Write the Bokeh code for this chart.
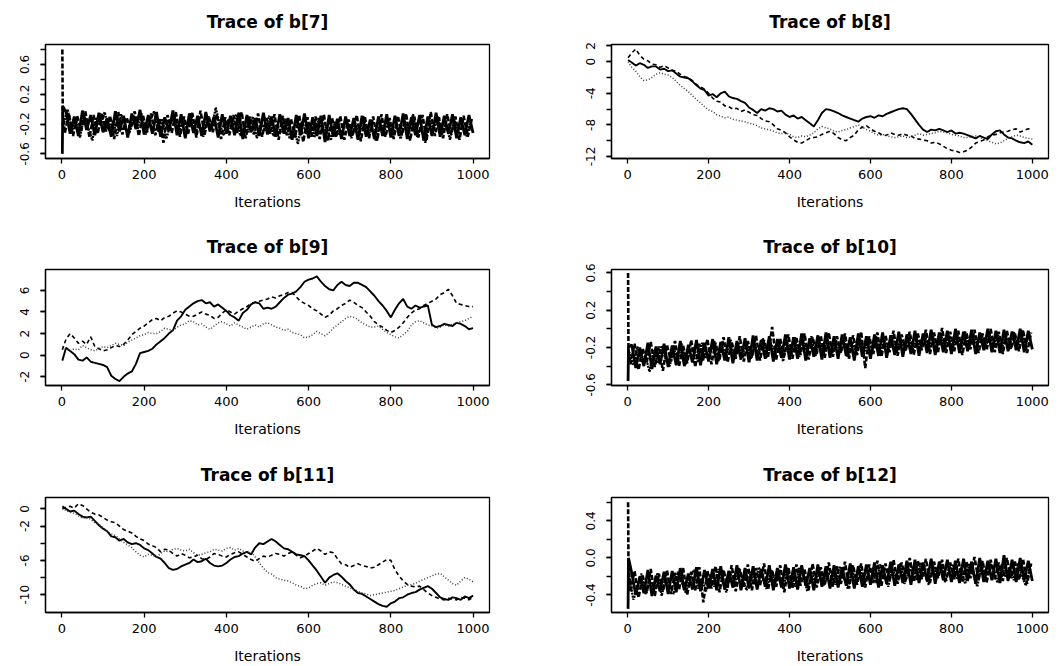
from bokeh.plotting import figure
from bokeh.layouts import column, row
from bokeh.models import Range1d, FixedTicker, PrintfTickFormatter
from bokeh.embed import file_html
from bokeh.resources import INLINE

# ---------------- data ----------------
rw_iter = [1] + list(range(10, 1001, 10))            # random-walk chains, every 10th iteration
# well-mixed chains: thinned every 10th iteration, each chain read at its own offset
noisy_iter_1 = [1, 2] + list(range(10, 1001, 10))
noisy_iter_2 = [1, 2] + list(range(7, 998, 10))
noisy_iter_3 = [1, 2] + list(range(4, 995, 10))
x_ticks = [0, 200, 400, 600, 800, 1000]

b7_chain1 = [-0.60, 0.04,
    -0.04,-0.33,-0.10,-0.36,-0.02,-0.28,-0.08,-0.35,-0.05,-0.31,
    -0.12,-0.37,-0.03,-0.30,-0.09,-0.38,-0.06,-0.27,-0.01,-0.34,
    -0.08,-0.33,-0.04,-0.37,-0.11,-0.29,-0.02,-0.35,-0.07,-0.39,
    -0.06,-0.32,-0.09,-0.36,-0.04,-0.30,-0.10,-0.38,-0.07,-0.33,
    -0.09,-0.35,-0.05,-0.40,-0.08,-0.31,-0.12,-0.36,-0.05,-0.34,
    -0.10,-0.37,-0.07,-0.33,-0.12,-0.41,-0.08,-0.35,-0.06,-0.39,
    -0.11,-0.36,-0.09,-0.44,-0.08,-0.37,-0.13,-0.40,-0.10,-0.36,
    -0.12,-0.41,-0.09,-0.37,-0.14,-0.40,-0.10,-0.36,-0.07,-0.38,
    -0.09,-0.36,-0.06,-0.40,-0.11,-0.35,-0.08,-0.42,-0.10,-0.36,
    -0.05,-0.37,-0.09,-0.33,-0.07,-0.39,-0.11,-0.35,-0.08,-0.32]
b7_chain2 = [0.80, -0.05,
    -0.32,-0.06,-0.36,-0.09,-0.29,-0.03,-0.38,-0.08,-0.33,-0.05,
    -0.30,-0.09,-0.40,-0.04,-0.34,-0.11,-0.27,-0.03,-0.36,-0.08,
    -0.31,-0.06,-0.35,-0.12,-0.45,-0.08,-0.32,-0.04,-0.37,-0.10,
    -0.33,-0.05,-0.38,-0.02,-0.34,-0.09,-0.31,-0.07,-0.40,-0.11,
    -0.35,-0.08,-0.32,-0.04,-0.39,-0.10,-0.34,-0.06,-0.37,-0.12,
    -0.33,-0.07,-0.41,-0.09,-0.35,-0.13,-0.38,-0.08,-0.44,-0.11,
    -0.37,-0.10,-0.40,-0.07,-0.42,-0.12,-0.38,-0.09,-0.41,-0.14,
    -0.36,-0.08,-0.43,-0.11,-0.39,-0.10,-0.42,-0.07,-0.37,-0.12,
    -0.40,-0.09,-0.35,-0.06,-0.42,-0.10,-0.38,-0.08,-0.41,-0.04,
    -0.36,-0.11,-0.39,-0.07,-0.34,-0.10,-0.41,-0.09,-0.37,-0.13]
b7_chain3 = [-0.18, -0.22,
    -0.21,0.00,-0.30,-0.12,-0.38,-0.08,-0.26,-0.42,-0.11,-0.22,
    -0.04,-0.29,-0.15,-0.36,-0.07,-0.24,-0.33,-0.10,-0.27,-0.06,
    -0.34,-0.17,-0.03,-0.30,-0.13,-0.40,-0.20,-0.09,-0.32,-0.16,
    -0.25,-0.05,-0.33,-0.19,-0.37,-0.11,-0.28,0.02,-0.21,-0.35,
    -0.14,-0.27,-0.07,-0.36,-0.20,-0.31,-0.10,-0.39,-0.17,-0.29,
    -0.09,-0.36,-0.22,-0.31,-0.13,-0.40,-0.24,-0.47,-0.16,-0.33,
    -0.19,-0.38,-0.12,-0.31,-0.23,-0.42,-0.17,-0.35,-0.27,-0.14,
    -0.39,-0.21,-0.32,-0.10,-0.36,-0.25,-0.43,-0.18,-0.30,-0.13,
    -0.35,-0.22,-0.40,-0.16,-0.31,-0.07,-0.37,-0.24,-0.45,-0.15,
    -0.28,-0.10,-0.34,-0.20,-0.41,-0.14,-0.29,-0.22,-0.36,-0.18]

b8_chain1 = [0.2,-0.1,-0.5,-0.2,-0.4,-0.8,-0.6,-0.6,-1.0,-0.9,
    -1.2,-1.1,-1.5,-1.9,-2.0,-2.1,-2.5,-3.0,-3.4,-3.6,
    -4.3,-4.1,-4.5,-4.0,-3.8,-4.4,-4.6,-4.7,-5.0,-5.2,
    -5.8,-6.1,-6.5,-6.0,-6.2,-5.9,-6.0,-6.3,-6.2,-6.7,
    -7.0,-6.8,-7.2,-7.0,-7.4,-7.8,-8.2,-7.4,-6.5,-6.0,
    -6.1,-6.3,-6.5,-6.8,-7.0,-7.2,-7.4,-7.6,-7.2,-7.0,
    -6.9,-7.1,-6.8,-6.9,-6.6,-6.4,-6.2,-6.0,-5.9,-6.0,
    -6.6,-7.3,-8.0,-8.6,-8.9,-8.6,-8.7,-8.5,-8.7,-8.9,
    -8.7,-9.1,-9.0,-9.1,-9.3,-9.5,-9.7,-9.4,-9.6,-9.8,
    -9.2,-8.8,-8.7,-9.2,-9.6,-9.7,-10.0,-10.2,-10.3,-10.1,
    -10.5]
b8_chain2 = [0.5,1.1,1.6,0.8,0.3,0.1,-0.3,-0.4,-0.7,-0.5,
    -0.8,-1.1,-1.2,-1.6,-1.9,-2.0,-2.4,-2.9,-3.2,-3.5,
    -4.0,-4.6,-5.0,-5.1,-5.6,-5.7,-6.0,-5.9,-6.3,-6.1,
    -6.4,-6.7,-6.8,-7.2,-7.5,-7.6,-8.0,-8.5,-8.7,-9.0,
    -9.5,-9.9,-10.2,-10.3,-10.0,-9.7,-9.6,-9.5,-9.2,-9.0,
    -8.8,-9.1,-9.6,-9.9,-10.0,-9.6,-9.3,-8.6,-8.3,-8.1,
    -8.5,-8.8,-9.0,-9.3,-9.3,-9.0,-9.2,-9.3,-9.1,-9.3,
    -9.4,-9.7,-9.8,-9.9,-10.0,-10.3,-10.2,-10.4,-10.7,-11.0,
    -11.2,-11.3,-11.5,-11.4,-11.2,-10.8,-10.3,-10.1,-9.9,-9.5,
    -9.3,-9.2,-9.0,-8.9,-8.8,-8.6,-8.5,-8.9,-8.7,-8.5,
    -8.6]
b8_chain3 = [0.0,-0.7,-1.2,-1.9,-2.4,-2.3,-2.0,-1.6,-1.4,-1.6,
    -1.7,-2.0,-2.5,-3.0,-3.4,-3.8,-4.3,-4.8,-5.2,-5.7,
    -6.1,-6.3,-6.7,-6.9,-7.1,-7.0,-7.3,-7.4,-7.5,-7.6,
    -7.8,-7.9,-8.1,-8.4,-8.5,-8.6,-8.8,-9.0,-9.1,-9.0,
    -9.2,-9.5,-9.6,-9.4,-9.5,-9.3,-9.0,-8.5,-8.2,-8.4,
    -8.5,-8.8,-8.9,-8.7,-8.6,-8.4,-8.2,-8.0,-8.3,-8.6,
    -8.8,-9.1,-9.3,-9.2,-9.4,-9.5,-9.6,-9.5,-9.4,-9.6,
    -9.5,-9.3,-9.1,-9.3,-9.2,-9.1,-9.0,-8.8,-8.9,-9.0,
    -9.2,-9.3,-9.4,-9.6,-9.6,-9.5,-9.4,-9.6,-9.8,-10.0,
    -10.2,-10.4,-10.3,-10.0,-9.7,-9.5,-9.3,-9.4,-9.6,-9.7,
    -9.8]

b9_chain1 = [-0.5,0.7,0.4,0.1,-0.4,-0.5,-0.2,-0.6,-0.7,-0.8,
    -0.9,-1.1,-1.9,-2.2,-2.4,-2.0,-1.7,-1.5,-0.8,0.2,
    0.3,0.4,0.6,1.0,1.3,1.6,2.0,2.3,3.2,3.6,
    4.2,4.5,4.8,5.0,5.1,4.8,4.9,4.5,4.7,4.4,
    4.1,3.7,3.5,3.2,3.9,4.2,4.7,4.9,4.8,4.3,
    4.4,4.3,4.5,4.9,5.3,5.6,5.7,5.9,6.3,6.8,
    7.0,7.1,7.3,6.8,6.4,6.1,6.0,6.5,6.8,6.5,
    6.4,6.7,6.7,6.5,6.3,5.9,5.5,5.0,4.6,4.1,
    3.5,4.2,4.8,5.2,4.5,4.3,4.6,4.4,4.5,4.6,
    2.8,2.6,2.7,2.9,2.8,2.7,3.0,2.9,2.7,2.4,
    2.5]
b9_chain2 = [0.5,1.5,2.0,1.6,1.1,1.3,1.0,1.7,0.8,0.6,
    0.4,0.5,0.7,0.9,0.8,1.0,1.4,1.9,2.2,2.5,
    2.7,3.0,3.3,3.4,3.2,3.5,3.6,3.9,4.1,4.0,
    3.8,3.6,3.6,3.8,4.0,3.8,3.7,3.4,3.5,3.9,
    4.2,4.0,3.8,4.1,4.3,4.5,4.8,4.9,5.0,5.1,
    5.2,5.4,5.3,5.5,5.6,5.8,5.8,5.4,5.0,4.8,
    4.6,4.3,4.1,3.8,3.5,3.7,4.1,4.3,4.6,4.8,
    5.1,4.9,4.6,4.4,4.0,3.6,3.1,2.8,2.6,2.3,
    2.1,2.3,2.6,3.0,3.5,3.9,4.2,4.3,4.6,4.8,
    5.0,5.2,5.6,5.8,6.1,5.5,4.8,4.7,4.6,4.5,
    4.5]
b9_chain3 = [0.8,0.6,0.4,0.6,0.5,0.9,0.7,0.5,0.4,0.6,
    0.8,0.7,0.9,1.1,1.0,0.9,1.2,1.4,1.6,1.8,
    1.9,2.1,2.0,2.0,2.2,2.5,2.4,2.3,2.6,2.8,
    2.9,3.2,3.1,2.8,2.9,2.6,2.4,2.7,3.0,3.1,
    2.9,2.7,3.0,2.8,2.6,2.4,2.6,2.8,2.6,2.9,
    3.0,2.8,2.6,2.5,2.3,2.4,2.1,2.0,1.9,1.6,
    1.7,1.9,2.2,2.0,1.8,2.1,2.5,2.8,3.1,3.4,
    3.6,3.5,3.3,3.0,2.8,2.6,2.6,2.7,2.4,2.1,
    1.9,1.7,1.6,1.9,2.2,2.8,3.1,3.2,3.0,2.8,
    2.7,2.5,2.6,2.8,2.7,2.9,3.0,3.1,3.2,3.4,
    3.6]

b10_chain1 = [-0.56, -0.20,
    -0.17,-0.42,-0.20,-0.40,-0.15,-0.43,-0.19,-0.38,-0.16,-0.41,
    -0.18,-0.39,-0.13,-0.40,-0.17,-0.36,-0.12,-0.39,-0.15,-0.35,
    -0.11,-0.38,-0.14,-0.34,-0.09,-0.37,-0.13,-0.33,-0.10,-0.36,
    -0.07,-0.34,-0.12,-0.32,-0.08,-0.35,-0.11,-0.31,-0.06,-0.33,
    -0.09,-0.32,-0.05,-0.34,-0.10,-0.30,-0.07,-0.33,-0.04,-0.31,
    -0.08,-0.32,-0.06,-0.29,-0.09,-0.34,-0.05,-0.30,-0.08,-0.32,
    -0.06,-0.29,-0.04,-0.31,-0.07,-0.28,-0.03,-0.30,-0.06,-0.27,
    -0.02,-0.29,-0.05,-0.26,-0.01,-0.28,-0.04,-0.25,-0.02,-0.27,
    0.00,-0.26,-0.03,-0.24,-0.01,-0.27,-0.04,-0.23,0.00,-0.25,
    -0.02,-0.26,-0.01,-0.24,-0.03,-0.23,0.00,-0.25,-0.02,-0.22]
b10_chain2 = [0.60, -0.24,
    -0.38,-0.16,-0.44,-0.21,-0.36,-0.14,-0.41,-0.19,-0.45,-0.17,
    -0.35,-0.13,-0.40,-0.18,-0.37,-0.12,-0.41,-0.16,-0.34,-0.11,
    -0.38,-0.15,-0.33,-0.09,-0.36,-0.14,-0.32,-0.08,-0.35,-0.13,
    -0.31,-0.07,-0.34,-0.12,-0.30,0.02,-0.33,-0.11,-0.29,-0.06,
    -0.32,-0.10,-0.28,-0.05,-0.33,-0.09,-0.27,-0.07,-0.31,-0.04,
    -0.30,-0.08,-0.26,-0.05,-0.32,-0.07,-0.28,-0.03,-0.42,-0.08,
    -0.27,-0.04,-0.30,-0.07,-0.25,-0.02,-0.29,-0.06,-0.24,-0.03,
    -0.28,-0.05,-0.23,-0.01,-0.27,-0.04,-0.25,0.01,-0.26,-0.03,
    -0.24,-0.02,-0.28,-0.04,-0.22,-0.01,-0.26,-0.05,-0.23,0.00,
    -0.25,-0.03,-0.27,-0.02,-0.22,-0.05,-0.24,-0.01,-0.26,-0.04]
b10_chain3 = [-0.28, -0.30,
    -0.25,-0.39,-0.19,-0.35,-0.29,-0.46,-0.23,-0.37,-0.18,-0.33,
    -0.40,-0.21,-0.34,-0.16,-0.38,-0.25,-0.20,-0.36,-0.15,-0.31,
    -0.27,-0.13,-0.35,-0.19,-0.30,-0.11,-0.33,-0.18,-0.28,-0.14,
    -0.32,-0.17,-0.27,-0.10,-0.31,-0.16,-0.26,-0.12,-0.35,-0.15,
    -0.25,-0.09,-0.30,-0.15,-0.24,-0.08,-0.29,-0.14,-0.26,-0.11,
    -0.28,-0.13,-0.23,-0.09,-0.30,-0.14,-0.24,-0.10,-0.27,-0.12,
    -0.23,-0.08,-0.28,-0.12,-0.22,-0.07,-0.26,-0.11,-0.21,-0.06,
    -0.25,-0.10,-0.20,-0.05,-0.24,-0.09,-0.19,-0.04,-0.23,-0.08,
    -0.18,-0.06,-0.22,-0.03,-0.20,-0.07,-0.17,-0.05,-0.21,-0.06,
    -0.19,-0.04,-0.22,-0.07,-0.17,-0.03,-0.20,-0.06,-0.16,-0.05]

b11_chain1 = [0.3,0.0,-0.3,-0.2,-0.6,-0.9,-1.0,-0.9,-1.4,-1.9,
    -2.3,-2.6,-3.2,-3.3,-3.7,-3.5,-3.9,-4.1,-4.0,-4.2,
    -4.6,-4.8,-5.2,-5.6,-5.8,-6.3,-6.9,-7.1,-7.0,-6.7,
    -6.5,-6.3,-5.9,-6.2,-6.1,-5.8,-6.3,-6.6,-6.7,-6.6,
    -6.3,-5.9,-5.6,-5.5,-5.2,-5.0,-5.3,-4.5,-4.0,-4.1,
    -3.8,-3.5,-3.8,-4.2,-4.6,-4.7,-5.0,-5.3,-5.4,-5.5,
    -6.0,-6.6,-7.2,-7.9,-8.6,-8.0,-7.7,-7.5,-7.9,-8.4,
    -8.8,-9.4,-9.8,-9.9,-10.2,-10.5,-10.8,-11.1,-11.3,-11.4,
    -11.0,-10.8,-10.4,-10.3,-10.0,-9.8,-9.7,-9.4,-9.2,-9.0,
    -9.3,-9.8,-10.3,-10.5,-10.6,-10.3,-10.4,-10.6,-10.2,-10.4,
    -10.1]
b11_chain2 = [0.0,0.2,0.3,0.1,0.6,0.4,0.0,-0.4,-0.6,-0.7,
    -1.0,-1.3,-1.5,-1.6,-2.0,-2.4,-2.6,-2.8,-3.2,-3.5,
    -3.7,-4.1,-4.3,-4.5,-5.0,-4.7,-4.8,-5.2,-5.5,-5.2,
    -5.4,-5.7,-5.6,-5.4,-5.8,-5.9,-5.6,-5.2,-5.3,-5.5,
    -5.6,-5.3,-5.1,-5.0,-5.3,-5.6,-5.9,-6.1,-5.8,-5.5,
    -5.6,-5.4,-5.2,-5.3,-5.5,-5.2,-5.0,-5.4,-5.7,-5.5,
    -5.2,-4.9,-4.6,-4.9,-5.3,-5.0,-5.1,-5.8,-6.4,-6.5,
    -6.8,-6.6,-6.4,-6.6,-6.7,-6.9,-6.8,-6.5,-6.2,-5.9,
    -6.0,-7.1,-7.8,-8.4,-8.8,-9.0,-9.1,-9.0,-9.4,-9.8,
    -10.1,-10.3,-10.5,-10.6,-10.4,-10.5,-10.6,-10.3,-10.4,-10.6,
    -10.3]
b11_chain3 = [0.1,-0.2,-0.4,-0.5,-0.8,-1.1,-1.0,-1.2,-1.6,-1.8,
    -2.2,-2.6,-2.9,-3.1,-3.5,-3.9,-4.2,-4.5,-5.0,-5.4,
    -5.6,-5.3,-5.4,-5.6,-5.2,-4.9,-5.0,-4.7,-4.6,-4.8,
    -4.9,-4.7,-5.1,-5.4,-5.3,-5.1,-5.0,-4.7,-4.8,-4.9,
    -4.6,-4.5,-4.8,-4.6,-4.9,-5.1,-5.0,-5.6,-6.3,-6.9,
    -7.4,-7.6,-8.0,-8.2,-8.3,-8.4,-8.6,-8.9,-9.0,-9.3,
    -9.2,-8.9,-8.7,-8.6,-8.9,-8.7,-8.5,-8.6,-8.8,-9.0,
    -9.2,-9.4,-9.6,-9.8,-9.9,-10.1,-10.0,-9.9,-9.8,-9.7,
    -9.6,-9.5,-9.3,-9.1,-8.9,-8.8,-8.7,-8.4,-8.2,-8.0,
    -7.8,-7.6,-7.5,-7.9,-8.3,-8.7,-8.9,-8.4,-8.0,-8.2,
    -8.5]

b12_chain1 = [-0.55, 0.00,
    -0.16,-0.40,-0.20,-0.38,-0.13,-0.41,-0.19,-0.36,-0.15,-0.39,
    -0.14,-0.37,-0.11,-0.35,-0.17,-0.34,-0.10,-0.36,-0.13,-0.33,
    -0.12,-0.35,-0.09,-0.34,-0.14,-0.32,-0.08,-0.35,-0.11,-0.33,
    -0.09,-0.34,-0.12,-0.31,-0.08,-0.35,-0.11,-0.32,-0.07,-0.33,
    -0.10,-0.34,-0.08,-0.30,-0.11,-0.35,-0.07,-0.31,-0.09,-0.33,
    -0.08,-0.32,-0.10,-0.30,-0.06,-0.33,-0.09,-0.31,-0.07,-0.29,
    -0.05,-0.32,-0.08,-0.28,-0.04,-0.30,-0.07,-0.27,-0.03,-0.29,
    -0.02,-0.27,-0.05,-0.25,-0.01,-0.28,-0.04,-0.24,-0.02,-0.26,
    -0.03,-0.27,-0.01,-0.25,-0.04,-0.28,0.00,-0.26,-0.03,-0.24,
    -0.01,-0.27,0.03,-0.25,-0.02,-0.26,0.00,-0.24,-0.03,-0.25]
b12_chain2 = [0.60, -0.05,
    -0.37,-0.14,-0.43,-0.19,-0.38,-0.12,-0.41,-0.17,-0.36,-0.13,
    -0.39,-0.16,-0.34,-0.11,-0.40,-0.15,-0.35,-0.10,-0.48,-0.14,
    -0.33,-0.09,-0.37,-0.13,-0.32,-0.08,-0.36,-0.12,-0.31,-0.07,
    -0.35,-0.11,-0.30,-0.06,-0.34,-0.13,-0.31,-0.08,-0.37,-0.10,
    -0.33,-0.07,-0.30,-0.12,-0.35,-0.06,-0.32,-0.10,-0.29,-0.05,
    -0.31,-0.09,-0.28,-0.04,-0.33,-0.08,-0.29,-0.06,-0.32,-0.07,
    -0.27,-0.03,-0.30,-0.06,-0.25,-0.02,-0.28,-0.05,-0.24,0.00,
    -0.26,-0.03,-0.23,-0.01,-0.27,-0.04,-0.22,-0.02,-0.25,-0.05,
    -0.23,-0.01,-0.26,-0.04,-0.22,0.01,-0.24,-0.03,-0.27,-0.02,
    -0.23,-0.05,-0.25,0.00,-0.22,-0.04,-0.24,-0.01,-0.28,-0.06]
b12_chain3 = [-0.30, -0.28,
    -0.21,-0.45,-0.33,-0.17,-0.39,-0.24,-0.35,-0.16,-0.41,-0.22,
    -0.31,-0.39,-0.15,-0.27,-0.38,-0.20,-0.13,-0.33,-0.24,-0.36,
    -0.18,-0.31,-0.12,-0.26,-0.37,-0.17,-0.30,-0.11,-0.23,-0.35,
    -0.15,-0.29,-0.10,-0.22,-0.34,-0.14,-0.27,-0.19,-0.33,-0.13,
    -0.21,-0.31,-0.11,-0.20,-0.36,-0.16,-0.26,-0.10,-0.30,-0.19,
    -0.14,-0.29,-0.09,-0.21,-0.33,-0.13,-0.24,-0.08,-0.29,-0.18,
    -0.12,-0.27,-0.07,-0.19,-0.31,-0.11,-0.22,-0.06,-0.28,-0.16,
    -0.09,-0.24,-0.05,-0.17,-0.29,-0.08,-0.20,-0.04,-0.26,-0.13,
    -0.07,-0.23,-0.10,-0.28,-0.06,-0.18,-0.31,-0.08,-0.21,-0.05,
    -0.12,-0.27,-0.07,-0.20,-0.10,-0.24,-0.06,-0.19,-0.30,-0.09]

# y-axis ticks (all tick marks) and the labelled subset
b7_yticks = [-0.6, -0.4, -0.2, 0.0, 0.2, 0.4, 0.6, 0.8]
b7_ylabeled = [-0.6, -0.2, 0.2, 0.6]
b8_yticks = [-12, -10, -8, -6, -4, -2, 0, 2]
b8_ylabeled = [-12, -8, -4, 0, 2]
b9_yticks = [-2, 0, 2, 4, 6]
b9_ylabeled = [-2, 0, 2, 4, 6]
b10_yticks = [-0.6, -0.4, -0.2, 0.0, 0.2, 0.4, 0.6]
b10_ylabeled = [-0.6, -0.2, 0.2, 0.6]
b11_yticks = [-10, -8, -6, -4, -2, 0]
b11_ylabeled = [-10, -6, -2, 0]
b12_yticks = [-0.4, -0.2, 0.0, 0.2, 0.4, 0.6]
b12_ylabeled = [-0.4, 0.0, 0.4]

titles = ["Trace of b[7]", "Trace of b[8]", "Trace of b[9]",
          "Trace of b[10]", "Trace of b[11]", "Trace of b[12]"]

# ---------------- drawing ----------------
WALK_STYLES = [dict(line_color="black", line_dash="solid", line_width=1.9),
               dict(line_color="black", line_dash="4 3", line_width=1.6),
               dict(line_color="#3a3a3a", line_dash="1 2", line_width=1.5)]
NOISY_STYLES = [dict(line_color="black", line_dash="solid", line_width=2.8),
                dict(line_color="black", line_dash="5 2", line_width=2.6),
                dict(line_color="black", line_dash="2 1", line_width=2.3)]
NOISY_ITERS = [noisy_iter_1, noisy_iter_2, noisy_iter_3]
WALK_ITERS = [rw_iter, rw_iter, rw_iter]

# (top border, bottom border, height) per row; (left, right) border per column
ROWS = [(43, 62, 220), (49, 55, 220), (57, 53, 226)]
COLS = [(45, 42), (80, 14)]


def make_panel(title, iters, chains, styles, yrange, yticks, ylabeled, fmt, r, c):
    tb, bb, h = ROWS[r]
    lb, rb = COLS[c]
    p = figure(width=531, height=h, output_backend="svg", toolbar_location=None,
               x_range=Range1d(-39.96, 1039.96), y_range=Range1d(*yrange),
               min_border_left=lb, min_border_right=rb,
               min_border_top=tb, min_border_bottom=bb)
    p.title.text = title
    p.title.align = "center"
    p.title.vertical_align = "top"
    p.title.text_font = "DejaVu Sans"
    p.title.text_font_style = "bold"
    p.title.text_font_size = "17px"
    p.title.text_color = "black"
    p.title.standoff = 22
    p.xgrid.visible = False
    p.ygrid.visible = False
    p.outline_line_color = "black"
    p.outline_line_width = 1.3
    p.background_fill_color = "white"
    p.border_fill_color = "white"

    for xs, ys, st in zip(iters, chains, styles):
        p.line(xs, ys, **st)

    xa = p.xaxis[0]
    xa.ticker = FixedTicker(ticks=x_ticks)
    xa.axis_label = "Iterations"
    xa.axis_label_text_font = "DejaVu Sans"
    xa.axis_label_text_font_style = "normal"
    xa.axis_label_text_font_size = "14px"
    xa.axis_label_standoff = 12
    xa.major_label_text_font = "DejaVu Sans"
    xa.major_label_text_font_size = "13px"
    xa.major_label_standoff = 6

    ya = p.yaxis[0]
    ya.ticker = FixedTicker(ticks=ylabeled, minor_ticks=yticks)
    ya.formatter = PrintfTickFormatter(format=fmt)
    ya.major_label_orientation = "vertical"
    ya.major_label_text_font = "DejaVu Sans"
    ya.major_label_text_font_size = "12px"
    ya.major_label_standoff = 11

    for ax in (xa, ya):
        ax.axis_line_color = "black"
        ax.axis_line_width = 1.3
        ax.major_tick_line_color = "black"
        ax.major_tick_line_width = 1.3
        ax.major_tick_out = 5
        ax.major_tick_in = 0
        ax.major_label_text_color = "black"
        ax.axis_label_text_color = "black"
    ya.minor_tick_line_color = "black"
    ya.minor_tick_line_width = 1.3
    ya.minor_tick_out = 5
    ya.minor_tick_in = 0
    xa.minor_tick_line_color = None
    return p


p1 = make_panel(titles[0], NOISY_ITERS, [b7_chain1, b7_chain2, b7_chain3], NOISY_STYLES,
                (-0.662, 0.866), b7_yticks, b7_ylabeled, "%.1f", 0, 0)
p2 = make_panel(titles[1], WALK_ITERS, [b8_chain1, b8_chain2, b8_chain3], WALK_STYLES,
                (-12.25, 2.17), b8_yticks, b8_ylabeled, "%d", 0, 1)
p3 = make_panel(titles[2], WALK_ITERS, [b9_chain1, b9_chain2, b9_chain3], WALK_STYLES,
                (-2.80, 7.93), b9_yticks, b9_ylabeled, "%d", 1, 0)
p4 = make_panel(titles[3], NOISY_ITERS, [b10_chain1, b10_chain2, b10_chain3], NOISY_STYLES,
                (-0.608, 0.637), b10_yticks, b10_ylabeled, "%.1f", 1, 1)
p5 = make_panel(titles[4], WALK_ITERS, [b11_chain1, b11_chain2, b11_chain3], WALK_STYLES,
                (-12.07, 1.33), b11_yticks, b11_ylabeled, "%d", 2, 0)
p6 = make_panel(titles[5], NOISY_ITERS, [b12_chain1, b12_chain2, b12_chain3], NOISY_STYLES,
                (-0.589, 0.652), b12_yticks, b12_ylabeled, "%.1f", 2, 1)

layout = column(row(p1, p2), row(p3, p4), row(p5, p6))
open("out.html", "w").write(file_html(layout, INLINE))
